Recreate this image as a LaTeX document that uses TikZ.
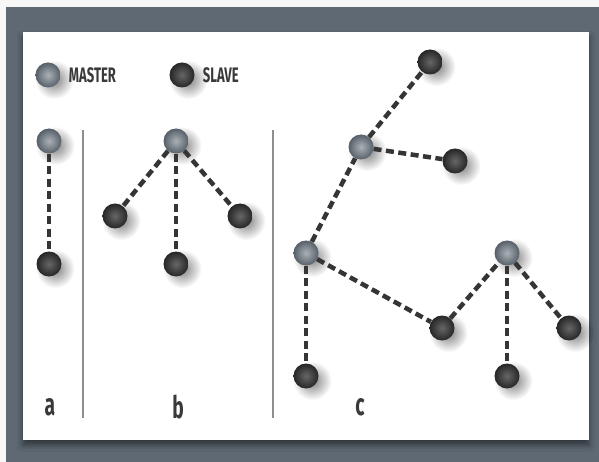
\documentclass[tikz,border=0pt]{standalone}
\usepackage{fontspec}
\newfontfamily\tagfont{Fira Sans}[FakeStretch=0.62]
\usepackage{tikz}
\usetikzlibrary{positioning, shadows, shadows.blur, fadings}

\definecolor{framegray}{HTML}{5E6973}
\definecolor{mastergray}{HTML}{66717C}
\definecolor{sepgray}{HTML}{8A8F94}
\definecolor{linkgray}{HTML}{353535}
\definecolor{textgray}{HTML}{3A3A3A}

\tikzfading[name=softdot, inner color=transparent!0, outer color=transparent!100]

\begin{document}
\begin{tikzpicture}[
  x=1pt, y=-1pt,
  ball/.style={
    circle,
    minimum size=25pt,
    inner sep=0pt,
    shading=radial,
    general shadow={shadow xshift=4pt, shadow yshift=-3pt, shadow scale=1.55,
                    fill=black, fill opacity=0.5, path fading=softdot},
  },
  master/.style={
    ball,
    inner color=mastergray!55!white,
    outer color=mastergray!85!black,
  },
  slave/.style={
    ball,
    inner color=gray!80!black,
    outer color=black!85,
  },
  link/.style={
    line width=4.5pt,
    dash pattern=on 8pt off 4.5pt,
    linkgray,
  },
  sep/.style={
    line width=1.5pt,
    sepgray,
  },
  legend/.style={
    font=\tagfont\bfseries\fontsize{21}{21}\selectfont,
    text=textgray,
    inner sep=0pt,
  },
  tag/.style={
    font=\tagfont\bfseries\fontsize{31}{31}\selectfont,
    text=textgray,
    inner sep=0pt,
  },
]

\useasboundingbox (0,0) rectangle (599,462);

% ============================================================
% FRAME
% ============================================================
\fill[gray!6] (0,0) rectangle (599,462);
\fill[framegray] (6,7) rectangle (599,462);
\fill[white, blur shadow={shadow xshift=0pt, shadow yshift=-5pt,
      shadow blur radius=6pt, shadow opacity=50}]
  (23,32) rectangle (589,440);

% ============================================================
% LEGEND
% ============================================================
\node[master] (legmaster) at (48,75) {};
\node[legend, right=8pt of legmaster] (legmastertxt) {MASTER};
\node[slave] (legslave) at (182,75) {};
\node[legend, right=8pt of legslave] (legslavetxt) {SLAVE};

% ============================================================
% SEPARATORS
% ============================================================
\coordinate (sepatop) at (83,130);
\coordinate (sepabot) at (83,418);
\coordinate (sepbtop) at (273,130);
\coordinate (sepbbot) at (273,418);
\draw[sep] (sepatop) -- (sepabot);
\draw[sep] (sepbtop) -- (sepbbot);

% ============================================================
% (a) ONE MASTER, ONE SLAVE
% ============================================================
\node[master] (am) at (49,141) {};
\node[slave]  (as) at (49,264) {};
\draw[link] (am) -- (as);
\node[tag] (taga) at (50,407) {a};

% ============================================================
% (b) ONE MASTER, THREE SLAVES
% ============================================================
\node[master] (bm)  at (176,141) {};
\node[slave]  (bs1) at (115,216) {};
\node[slave]  (bs2) at (176,264) {};
\node[slave]  (bs3) at (240,216) {};
\draw[link] (bm) -- (bs1);
\draw[link] (bm) -- (bs2);
\draw[link] (bm) -- (bs3);
\node[tag] (tagb) at (178,407) {b};

% ============================================================
% (c) SCATTERNET
% ============================================================
\node[master] (cm1) at (306,253) {};
\node[master] (cm2) at (361,147) {};
\node[master] (cm3) at (507,253) {};
\node[slave]  (cs1) at (430,62)  {};
\node[slave]  (cs2) at (455,161) {};
\node[slave]  (cs3) at (306,376) {};
\node[slave]  (cs4) at (442,328) {};
\node[slave]  (cs5) at (507,376) {};
\node[slave]  (cs6) at (569,328) {};
\draw[link] (cm1) -- (cm2);
\draw[link] (cm2) -- (cs1);
\draw[link] (cm2) -- (cs2);
\draw[link] (cm1) -- (cs3);
\draw[link] (cm1) -- (cs4);
\draw[link] (cs4) -- (cm3);
\draw[link] (cm3) -- (cs5);
\draw[link] (cm3) -- (cs6);
\node[tag] (tagc) at (360,407) {c};

\end{tikzpicture}
\end{document}
